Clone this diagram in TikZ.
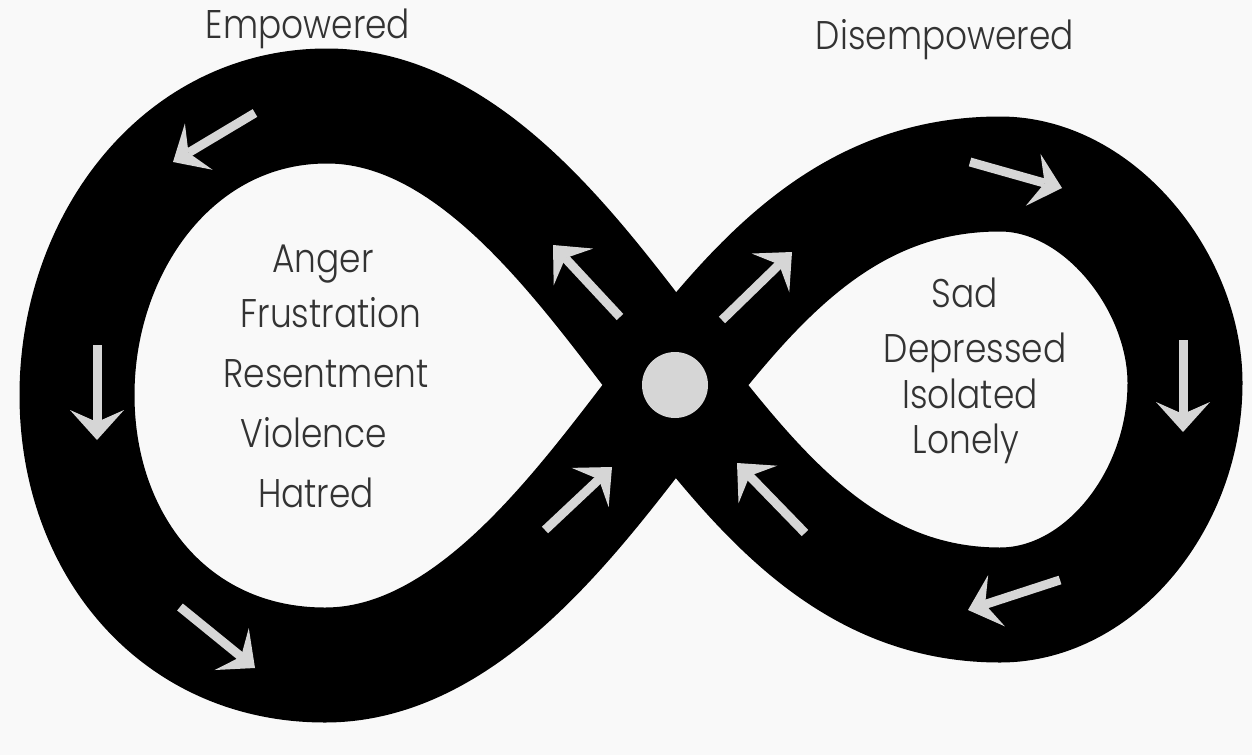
\documentclass[tikz,border=0pt]{standalone}
\usepackage{fontspec}
\newfontfamily\pf[FakeStretch=0.86]{Poppins Light}
\usetikzlibrary{arrows.meta}
\definecolor{bg}{HTML}{F9F9F9}
\definecolor{arr}{HTML}{D6D6D6}
\definecolor{txt}{HTML}{333333}
\begin{document}
\begin{tikzpicture}[x=0.5pt,y=0.5pt,
  flow/.style={draw=arr, line width=4.5pt, -{Stealth[length=15pt,width=27pt,inset=6pt,line width=0pt]}},
  lbl/.style={anchor=base, text=txt, font=\pf\fontsize{20}{22}\selectfont, inner sep=0pt},
  feel/.style={anchor=base, text=txt, font=\pf\fontsize{20}{22}\selectfont, inner sep=0pt}]
\fill[bg] (0,0) rectangle (1252,-755);
\useasboundingbox (0,0) rectangle (1252,-755);
\coordinate (C) at (675,-385);
\draw[line width=57.5pt, line join=round]
  (C) .. controls (761,-275) and (850,-174) .. (1000,-174)
      .. controls (1100,-174) and (1185,-283) .. (1185,-383)
      .. controls (1185,-500) and (1100,-605) .. (1000,-605)
      .. controls (850,-605) and (761,-495) .. (C)
      .. controls (589,-275) and (477,-106) .. (327,-106)
      .. controls (177,-106) and (77,-245) .. (77,-395)
      .. controls (77,-545) and (175,-665) .. (325,-665)
      .. controls (475,-665) and (589,-495) .. (C) -- cycle;
\node[circle, fill=arr, minimum size=33pt, inner sep=0pt] (dot) at (C) {};
% arrows
\draw[flow] (255,-113) -- (173,-162);
\draw[flow] (97,-345) -- (97,-440);
\draw[flow] (180,-607) -- (255,-668);
\draw[flow] (545,-530) -- (612,-467);
\draw[flow] (620,-317) -- (553,-245);
\draw[flow] (722,-320) -- (792,-252);
\draw[flow] (805,-533) -- (737,-463);
\draw[flow] (970,-162) -- (1062,-188);
\draw[flow] (1183,-340) -- (1183,-432);
\draw[flow] (1060,-580) -- (968,-610);
% labels
\node[lbl] (emp) at (308,-38) {Empowered};
\node[lbl] (dis) at (945,-49) {Disempowered};
\node[feel] (l1) at (323,-272) {Anger};
\node[feel] (l2) at (331,-327) {Frustration};
\node[feel] (l3) at (326,-387) {Resentment};
\node[feel] (l4) at (314,-447) {Violence};
\node[feel] (l5) at (316,-507) {Hatred};
\node[feel] (r1) at (965,-307) {Sad};
\node[feel] (r2) at (975,-362) {Depressed};
\node[feel] (r3) at (970,-408) {Isolated};
\node[feel] (r4) at (966,-453) {Lonely};
\end{tikzpicture}
\end{document}
